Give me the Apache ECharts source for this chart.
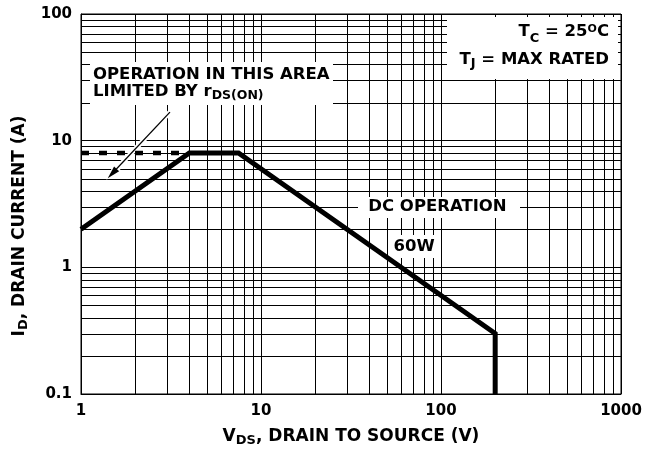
<!DOCTYPE html>
<html><head><meta charset="utf-8">
<script src="https://cdn.jsdelivr.net/npm/echarts@6/dist/echarts.min.js"></script>
<style>html,body{margin:0;padding:0;background:#fff}#c{width:655px;height:449px}</style>
</head><body><div id="c"></div>
<script>
// Axis ticks (decades) and minor grid values
const xTicks = [1, 10, 100, 1000];
const yTicks = [0.1, 1, 10, 100];
const xMinor = [2, 3, 4, 5, 6, 7, 8, 9, 20, 30, 40, 50, 60, 70, 80, 90, 200, 300, 400, 500, 600, 700, 800, 900];
const yMinor = [0.2, 0.3, 0.4, 0.5, 0.6, 0.7, 0.8, 0.9, 2, 3, 4, 5, 6, 7, 8, 9, 20, 30, 40, 50, 60, 70, 80, 90];
// Safe operating area boundary (DC operation, 60 W)
const soaV = [1, 4, 7.5, 200, 200];
const soaI = [2, 8, 8, 0.3, 0.1];
// rDS(ON) limit extension (dashed)
const rdsV = [1, 4];
const rdsI = [8, 8];
// Annotation arrow (data coordinates)
const arrowFrom = [3.12, 16.8];
const arrowTo = [1.49, 5.5];

const FF = 'DejaVu Sans';
const B = 'bold';
function fnt(sz) { return { fontFamily: FF, fontWeight: B, fontSize: sz, color: '#000' }; }

const chart = echarts.init(document.getElementById('c'), null, { renderer: 'canvas' });

function gridLineV(params, api) {
  const x = Math.round(api.coord([api.value(0), yTicks[0]])[0]) + 0.5;
  const y0 = api.coord([xTicks[0], yTicks[0]])[1];
  const y1 = api.coord([xTicks[0], yTicks[yTicks.length - 1]])[1];
  return { type: 'line', silent: true, shape: { x1: x, y1: y0, x2: x, y2: y1 }, style: { stroke: '#000', lineWidth: 1 } };
}
function gridLineH(params, api) {
  const y = Math.round(api.coord([xTicks[0], api.value(1)])[1]) + 0.5;
  const x0 = api.coord([xTicks[0], yTicks[0]])[0];
  const x1 = api.coord([xTicks[xTicks.length - 1], yTicks[0]])[0];
  return { type: 'line', silent: true, shape: { x1: x0, y1: y, x2: x1, y2: y }, style: { stroke: '#000', lineWidth: 1 } };
}

const subStyle = (sz, shift) => Object.assign(fnt(sz), { lineHeight: sz, padding: shift >= 0 ? [2 * shift, 0, 0, 0] : [0, 0, -2 * shift, 0] });
const mainStyle = (sz) => Object.assign(fnt(sz), { lineHeight: sz + 3 });

function gText(x, y, text, align, rich) {
  return {
    type: 'text', z: 12, silent: true,
    style: {
      x: x, y: y, text: text, align: align, verticalAlign: 'middle',
      fill: '#000', font: 'bold 16.5px "DejaVu Sans"', rich: rich || {}
    }
  };
}
function gBox(x, y, w, h) {
  return { type: 'rect', z: 11, silent: true, shape: { x: x, y: y, width: w, height: h }, style: { fill: '#fff' } };
}

const richAnn = {
  m: mainStyle(16.5),
  s: subStyle(12.5, 4),
  c: subStyle(13, 7),
  j: subStyle(13, 4),
  o: subStyle(11, -3)
};

const option = {
  animation: false,
  backgroundColor: '#fff',
  grid: { left: 81, right: 34, top: 14, bottom: 55, containLabel: false, outerBoundsMode: 'none', show: true, borderColor: '#000', borderWidth: 1, backgroundColor: 'transparent' },
  xAxis: {
    type: 'log', logBase: 10, min: xTicks[0], max: xTicks[xTicks.length - 1],
    axisLine: { show: true, lineStyle: { color: '#000', width: 1 } },
    axisTick: { show: false },
    splitLine: { show: true, lineStyle: { color: '#000', width: 1 } },
    axisLabel: Object.assign(fnt(15), { margin: 10, formatter: v => String(+(+v).toPrecision(6)) }),
    name: '{m|V}{s|DS}{m|, DRAIN TO SOURCE (V)}',
    nameLocation: 'middle', nameGap: 33,
    nameTextStyle: { rich: { m: Object.assign(fnt(17), { lineHeight: 20 }), s: Object.assign(fnt(13), { lineHeight: 13, padding: [8, 0, 0, 0] }) } }
  },
  yAxis: {
    type: 'log', logBase: 10, min: yTicks[0], max: yTicks[yTicks.length - 1],
    axisLine: { show: true, lineStyle: { color: '#000', width: 1 } },
    axisTick: { show: false },
    splitLine: { show: true, lineStyle: { color: '#000', width: 1 } },
    axisLabel: Object.assign(fnt(15), { margin: 9, formatter: v => String(+(+v).toPrecision(6)) }),
    name: '{m|I}{s|D}{m|, DRAIN CURRENT (A)}',
    nameLocation: 'middle', nameGap: 47,
    nameTextStyle: { padding: [0, 44, 0, 0], rich: { m: Object.assign(fnt(17), { lineHeight: 20 }), s: Object.assign(fnt(13), { lineHeight: 13, padding: [8, 0, 0, 0] }) } }
  },
  graphic: [
    gBox(90, 62, 243, 43),
    gText(93, 74.5, 'OPERATION IN THIS AREA', 'left'),
    gText(93, 91.5, '{m|LIMITED BY r}{s|DS(ON)}', 'left', richAnn),
    gBox(447, 17, 171, 62),
    gText(609, 32, '{m|T}{c|C}{m| = 25}{o|O}{m|C}', 'right', richAnn),
    gText(609, 59.5, '{m|T}{j|J}{m| = MAX RATED}', 'right', richAnn),
    gBox(358, 197, 162, 21),
    gText(437.5, 207, 'DC OPERATION', 'center'),
    gBox(392, 235, 45, 23),
    gText(414, 247, '60W', 'center')
  ],
  series: [
    { type: 'custom', z: 1, silent: true, renderItem: gridLineV, data: xMinor.map(v => [v, yTicks[0]]) },
    { type: 'custom', z: 1, silent: true, renderItem: gridLineH, data: yMinor.map(v => [xTicks[0], v]) },
    {
      type: 'line', z: 15, silent: true, showSymbol: false, symbol: 'none',
      data: [arrowFrom, arrowTo],
      lineStyle: { width: 0, opacity: 0 },
      markLine: {
        z: 15, silent: true, animation: false, label: { show: false },
        symbol: ['none', 'triangle'], symbolSize: [7, 13],
        data: [
          [{ coord: arrowFrom, symbol: 'none', lineStyle: { color: '#fff', width: 5, type: 'solid' } }, { coord: arrowTo, symbol: 'triangle', symbolSize: [11, 17], itemStyle: { color: '#fff' }, lineStyle: { color: '#fff', width: 5, type: 'solid' } }],
          [{ coord: arrowFrom, lineStyle: { color: '#000', width: 1.3, type: 'solid' } }, { coord: arrowTo, itemStyle: { color: '#000' }, lineStyle: { color: '#000', width: 1.3, type: 'solid' } }]
        ]
      }
    },
    {
      type: 'line', z: 16, silent: true, showSymbol: false, symbol: 'none',
      data: rdsV.map((v, i) => [v, rdsI[i]]),
      lineStyle: { color: '#000', width: 4.5, type: [8, 10], cap: 'butt' }
    },
    {
      type: 'line', z: 20, silent: true, showSymbol: false, symbol: 'none',
      data: soaV.map((v, i) => [v, soaI[i]]),
      lineStyle: { color: '#000', width: 5, cap: 'butt', join: 'miter' }
    }
  ]
};
chart.setOption(option);
</script>
</body></html>
